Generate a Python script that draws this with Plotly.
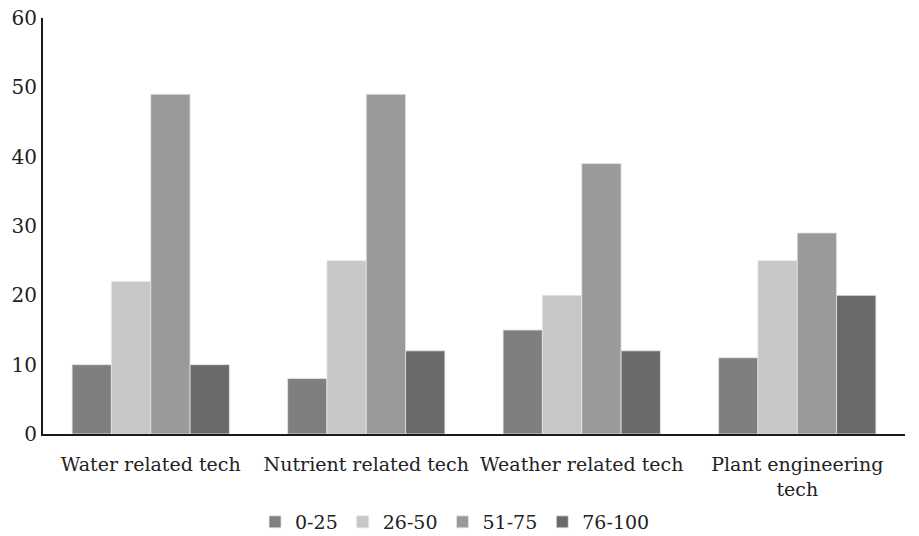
import plotly.graph_objects as go

categories = ["Water related tech", "Nutrient related tech", "Weather related tech", "Plant engineering<br>tech"]
series_names = ["0-25", "26-50", "51-75", "76-100"]
v_0_25 = [10, 8, 15, 11]
v_26_50 = [22, 25, 20, 25]
v_51_75 = [49, 49, 39, 29]
v_76_100 = [10, 12, 12, 20]
colors = ["#7f7f7f", "#c6c7c6", "#999a99", "#6a6a69"]
y_ticks = [0, 10, 20, 30, 40, 50, 60]

font_family = "DejaVu Serif"

fig = go.Figure()
for name, vals, col in zip(series_names, [v_0_25, v_26_50, v_51_75, v_76_100], colors):
    fig.add_trace(go.Bar(x=categories, y=vals, name=name,
                         marker=dict(color=col, line=dict(color="#e6e6e6", width=0.8))))

fig.update_layout(
    width=919, height=570,
    margin=dict(l=43, r=14, t=18, b=136),
    paper_bgcolor="white", plot_bgcolor="white",
    barmode="group", bargap=0.27, bargroupgap=0,
    font=dict(family=font_family, size=19, color="#222222"),
    showlegend=True,
    legend=dict(orientation="h", x=0.478, xanchor="center",
                y=-0.2115, yanchor="middle",
                font=dict(size=19), itemwidth=30, traceorder="normal"),
    xaxis=dict(showline=True, linecolor="#1a1a1a", linewidth=2, ticks="",
               showgrid=False, tickfont=dict(size=19), automargin=False,
               ticklabelstandoff=12),
    yaxis=dict(range=[0, 60], tickvals=y_ticks, showline=True, linecolor="#1a1a1a",
               linewidth=2, ticks="", showgrid=False, zeroline=False,
               tickfont=dict(size=20), automargin=False),
)

fig.write_html("out.html", config={"displayModeBar": False},
               post_script="document.body.style.margin='0';document.body.style.overflow='hidden';document.documentElement.style.overflow='hidden';")
